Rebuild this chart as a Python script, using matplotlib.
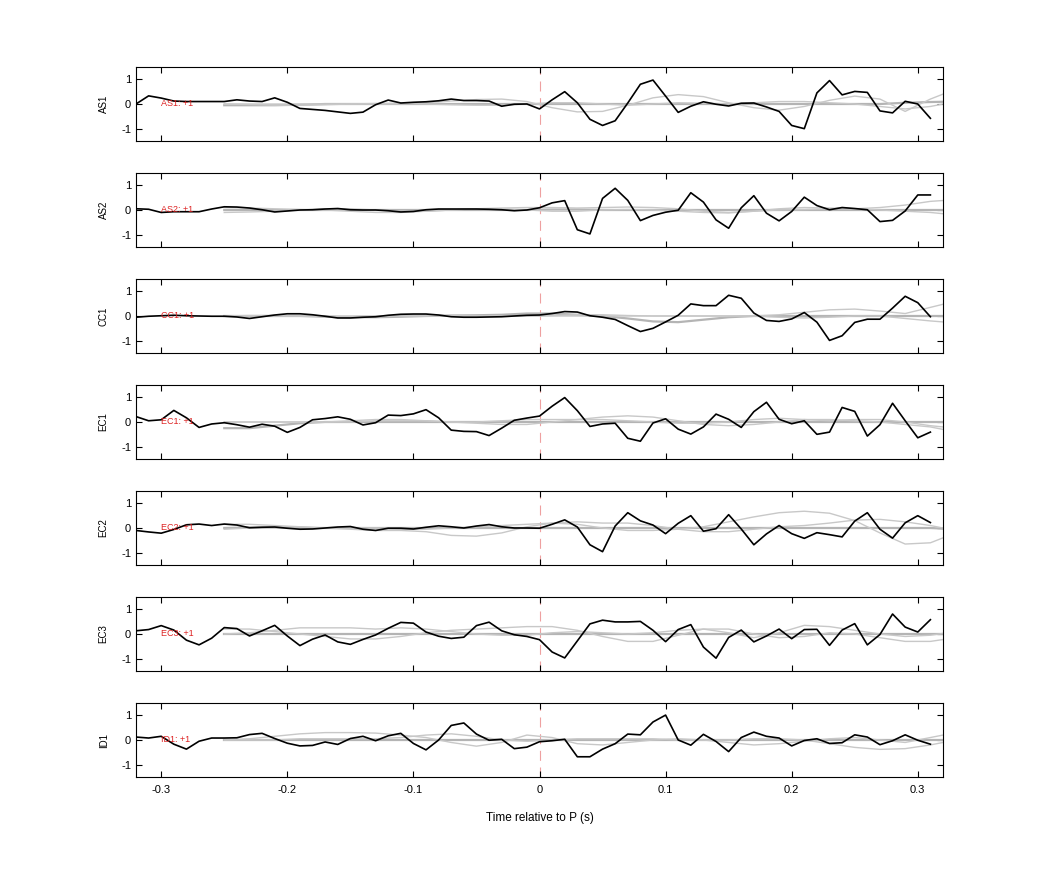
import numpy as np
import matplotlib
matplotlib.use('Agg')
import matplotlib.pyplot as plt

plt.rcParams['font.family'] = ['Liberation Sans', 'DejaVu Sans']
plt.rcParams['axes.unicode_minus'] = False

# station names, top to bottom
stations = ['AS1', 'AS2', 'CC1', 'EC1', 'EC2', 'EC3', 'ID1']
polarity = ['+1'] * 7

# black trace sampled every 0.01 s from -0.32 to 0.31
t_trace = np.round(np.arange(-32, 32) / 100, 2)
# grey traces sampled every 0.02 s from -0.25 to 0.33
t_grey = np.round(np.arange(-25, 34, 2) / 100, 2)

as1 = [0.0, 0.33, 0.24, 0.12, 0.1, 0.1, 0.1, 0.1, 0.17, 0.12, 0.1, 0.25, 0.07, -0.18, -0.22, -0.26,
       -0.32, -0.38, -0.33, -0.03, 0.16, 0.04, 0.07, 0.09, 0.13, 0.2, 0.14, 0.14, 0.12, -0.09, -0.01, 0.0,
       -0.2, 0.17, 0.5, 0.05, -0.62, -0.87, -0.68, 0.04, 0.8, 0.97, 0.32, -0.34, -0.09, 0.09, -0.01, -0.08,
       0.03, 0.04, -0.12, -0.3, -0.87, -1.0, 0.45, 0.95, 0.37, 0.51, 0.47, -0.28, -0.36, 0.11, 0.0, -0.58]
as2 = [0.05, 0.03, -0.1, -0.07, -0.07, -0.07, 0.04, 0.13, 0.12, 0.08, 0.01, -0.08, -0.04, 0.0, 0.01, 0.04,
       0.06, 0.01, 0.0, 0.0, -0.03, -0.08, -0.06, 0.01, 0.04, 0.04, 0.04, 0.04, 0.03, 0.01, -0.03, 0.0,
       0.09, 0.29, 0.38, -0.8, -0.97, 0.47, 0.88, 0.39, -0.43, -0.22, -0.09, -0.01, 0.7, 0.32, -0.4, -0.74,
       0.09, 0.58, -0.13, -0.44, -0.06, 0.52, 0.18, 0.01, 0.1, 0.06, 0.01, -0.47, -0.42, -0.04, 0.61, 0.61]
cc1 = [-0.05, -0.01, 0.01, 0.03, 0.01, 0.0, -0.01, -0.01, -0.04, -0.1, -0.03, 0.04, 0.09, 0.09, 0.05, -0.01,
       -0.08, -0.08, -0.05, -0.03, 0.03, 0.07, 0.08, 0.08, 0.04, -0.03, -0.05, -0.05, -0.04, -0.03, 0.0, 0.03,
       0.04, 0.1, 0.18, 0.16, 0.01, -0.05, -0.14, -0.39, -0.63, -0.5, -0.24, 0.03, 0.49, 0.42, 0.42, 0.84,
       0.72, 0.12, -0.18, -0.22, -0.12, 0.14, -0.25, -0.99, -0.8, -0.26, -0.13, -0.13, 0.32, 0.8, 0.54, -0.03]
ec1 = [0.22, 0.05, 0.09, 0.47, 0.17, -0.22, -0.08, -0.03, -0.11, -0.21, -0.09, -0.17, -0.42, -0.22, 0.09, 0.14,
       0.21, 0.11, -0.12, -0.03, 0.28, 0.26, 0.33, 0.5, 0.17, -0.33, -0.38, -0.39, -0.55, -0.25, 0.07, 0.16,
       0.24, 0.64, 0.99, 0.46, -0.18, -0.08, -0.05, -0.66, -0.78, -0.04, 0.13, -0.29, -0.49, -0.2, 0.32, 0.11,
       -0.22, 0.42, 0.8, 0.11, -0.07, 0.05, -0.5, -0.41, 0.59, 0.43, -0.57, -0.11, 0.76, 0.05, -0.64, -0.41]
ec2 = [-0.1, -0.16, -0.21, -0.06, 0.13, 0.16, 0.1, 0.16, 0.12, 0.01, 0.03, 0.04, -0.01, -0.05, -0.04, 0.0,
       0.04, 0.06, -0.05, -0.1, -0.01, -0.01, -0.04, 0.03, 0.09, 0.05, 0.0, 0.08, 0.14, 0.05, 0.0, 0.0,
       -0.01, 0.15, 0.33, 0.04, -0.68, -0.96, 0.08, 0.62, 0.29, 0.12, -0.23, 0.19, 0.5, -0.13, -0.03, 0.54,
       -0.04, -0.68, -0.24, 0.1, -0.23, -0.42, -0.19, -0.27, -0.36, 0.28, 0.62, -0.05, -0.41, 0.21, 0.5, 0.22]
ec3 = [0.13, 0.18, 0.34, 0.16, -0.25, -0.44, -0.17, 0.26, 0.22, -0.08, 0.13, 0.35, -0.08, -0.47, -0.21, -0.04,
       -0.32, -0.42, -0.22, -0.04, 0.23, 0.47, 0.44, 0.08, -0.09, -0.18, -0.13, 0.34, 0.48, 0.13, -0.03, -0.1,
       -0.23, -0.73, -0.97, -0.28, 0.41, 0.56, 0.49, 0.49, 0.51, 0.15, -0.31, 0.18, 0.38, -0.53, -0.98, -0.14,
       0.16, -0.32, -0.08, 0.2, -0.19, 0.18, 0.19, -0.46, 0.16, 0.42, -0.44, -0.02, 0.81, 0.28, 0.08, 0.58]
id1 = [0.12, 0.08, 0.15, -0.17, -0.37, -0.05, 0.08, 0.08, 0.09, 0.22, 0.27, 0.06, -0.13, -0.24, -0.22, -0.08,
       -0.18, 0.06, 0.15, -0.03, 0.17, 0.27, -0.14, -0.4, 0.0, 0.59, 0.69, 0.24, -0.01, 0.03, -0.35, -0.29,
       -0.07, -0.03, 0.03, -0.68, -0.68, -0.37, -0.15, 0.24, 0.21, 0.73, 1.01, 0.0, -0.21, 0.23, -0.06, -0.47,
       0.1, 0.32, 0.15, 0.08, -0.24, -0.02, 0.05, -0.14, -0.11, 0.21, 0.12, -0.19, -0.03, 0.21, -0.01, -0.17]
traces = [as1, as2, cc1, ec1, ec2, ec3, id1]

# grey comparison traces (three per station)
grey_as1 = [
    [-0.05, -0.05, -0.05, -0.03, 0, 0, 0, 0, 0, 0, 0, 0, 0, 0, 0, 0, 0, 0, 0, 0, 0, 0, 0, 0, 0, 0, 0, 0.05, 0.08, 0.1],
    [0, 0, 0, 0, 0, 0, 0, 0, 0.05, 0.12, 0.18, 0.2, 0.1, -0.15, -0.32, -0.3, -0.05, 0.25, 0.38, 0.3, 0.05, -0.15, -0.25, -0.1, 0.15, 0.32, 0.2, -0.3, 0.2, 0.6],
    [0, -0.02, -0.05, -0.05, -0.03, 0, 0.02, 0.03, 0, -0.03, -0.05, -0.05, 0, 0.05, 0.05, 0, -0.05, 0, 0.05, 0.03, 0, 0.05, 0.1, 0.1, 0.05, 0, -0.1, -0.2, -0.1, 0.1],
]
grey_as2 = [
    [0, 0, 0, 0, 0, 0, 0, 0, 0, 0, 0, 0, 0, 0.02, 0.02, 0, 0, 0, 0, 0, 0, 0, 0, 0, 0, 0, 0, 0, 0, 0],
    [0.1, 0.08, 0.05, 0.02, 0, -0.05, -0.1, -0.1, -0.05, 0, 0.05, 0.08, 0.1, 0.1, 0.08, 0.1, 0.12, 0.1, 0.05, -0.05, -0.1, -0.05, 0.05, 0.1, 0.08, 0.05, 0.1, 0.2, 0.35, 0.42],
    [-0.1, -0.08, -0.05, 0, 0.05, 0.05, 0, -0.05, -0.05, 0, 0.05, 0.05, 0, -0.05, -0.05, 0, 0.02, 0, -0.05, -0.1, -0.12, -0.05, 0, 0.02, 0.05, 0.05, 0, -0.05, -0.1, -0.2],
]
grey_cc1 = [
    [0, 0, 0, 0, -0.03, -0.05, -0.05, -0.03, 0, 0.02, 0.03, 0.05, 0.1, 0.1, 0.05, 0, -0.1, -0.22, -0.25, -0.15, -0.05, 0, 0, 0, 0, 0, 0, 0, 0, 0],
    [0, 0, 0, 0, 0, 0, 0, 0, 0, 0, 0, 0, 0, 0.02, 0.05, 0.05, 0.02, 0, 0, 0, 0, 0, 0.05, 0.15, 0.25, 0.28, 0.2, 0.1, 0.35, 0.6],
    [0, 0.02, 0.02, 0, -0.02, -0.02, 0, 0.02, 0.02, 0.02, 0, 0, 0, 0, 0, 0, 0, 0, 0, 0, 0, 0, -0.05, -0.08, -0.05, 0, 0, -0.1, -0.2, -0.28],
]
grey_ec1 = [
    [-0.25, -0.25, -0.15, -0.05, 0, 0, 0, 0, 0, 0, 0, 0, 0, 0, 0, 0, 0, 0, 0, 0, 0, 0, 0, 0, 0, 0, 0, 0, 0, 0],
    [0, 0, 0, 0, 0, 0, 0.05, 0.05, 0.05, 0, -0.05, -0.1, -0.1, 0, 0.1, 0.2, 0.25, 0.2, 0.05, -0.1, -0.15, -0.1, 0, 0.1, 0.1, 0.05, 0, -0.1, -0.2, -0.4],
    [0, 0, 0, 0, 0, 0.05, 0.1, 0.1, 0.05, 0, 0, 0.05, 0.1, 0.1, 0.1, 0.1, 0.05, 0, -0.05, -0.05, 0, 0.1, 0.15, 0.1, 0.05, 0.1, 0.1, 0, -0.15, -0.25],
]
grey_ec2 = [
    [0, 0.02, 0.02, 0, 0, 0, 0, 0, 0, 0, 0, 0, 0, 0, 0, 0, 0, 0, 0, 0, 0, 0, 0, 0, 0, 0, 0, 0, 0, -0.05],
    [-0.05, 0, 0.05, 0.05, 0, -0.05, -0.1, -0.1, -0.15, -0.3, -0.33, -0.2, 0.05, 0.2, 0.15, 0, -0.1, -0.1, -0.05, 0.05, 0.25, 0.45, 0.62, 0.68, 0.6, 0.3, -0.2, -0.65, -0.6, -0.2],
    [0.15, 0.15, 0.1, 0.05, 0, 0, 0, -0.05, -0.05, 0, 0.05, 0.1, 0.15, 0.2, 0.25, 0.2, 0.2, 0.1, -0.05, -0.15, -0.15, -0.05, 0.05, 0.1, 0.2, 0.32, 0.35, 0.25, 0.1, -0.1],
]
grey_ec3 = [
    [0, 0, 0, 0, 0, 0, 0, 0, 0, 0, 0, 0, 0, 0, 0, 0, 0, 0, 0, 0, 0, 0, 0, 0, 0, 0, 0, 0, 0, 0],
    [0.2, 0.2, 0.1, 0, -0.1, -0.2, -0.2, -0.1, 0.05, 0.15, 0.2, 0.25, 0.3, 0.3, 0.15, -0.1, -0.3, -0.3, -0.05, 0.2, 0.2, 0, -0.15, -0.1, 0.05, 0, -0.15, -0.3, -0.3, -0.15],
    [0, 0.05, 0.15, 0.25, 0.25, 0.25, 0.2, 0.25, 0.2, 0.1, 0, -0.05, -0.05, 0.05, 0.1, 0.05, 0, 0.05, 0.15, 0.2, 0.05, -0.15, 0.05, 0.35, 0.3, 0.15, 0, -0.1, -0.05, 0.1],
]
grey_id1 = [
    [0, 0, 0, 0, 0, 0, 0, 0, 0, 0, 0, 0, 0, 0, 0, 0, 0, 0, 0, 0, 0, 0, 0, 0, 0, 0, 0, 0, 0, 0],
    [0, 0.05, 0.15, 0.25, 0.3, 0.3, 0.28, 0.2, 0.1, -0.1, -0.25, -0.1, 0.2, 0.1, -0.15, -0.2, -0.1, 0, 0.05, 0, -0.1, -0.2, -0.15, -0.05, 0.05, 0.1, 0, -0.1, 0.1, 0.3],
    [0, 0, 0, 0.05, 0.05, 0.05, 0.05, 0.1, 0.2, 0.25, 0.15, 0, -0.05, 0, 0.05, 0.05, 0.05, 0.05, 0, 0, 0, 0.05, 0.05, 0, -0.15, -0.3, -0.38, -0.35, -0.2, 0],
]
greys = [grey_as1, grey_as2, grey_cc1, grey_ec1, grey_ec2, grey_ec3, grey_id1]

fig = plt.figure(figsize=(10.42, 8.75), dpi=100)
W, H = 1042, 875
left_px, right_px = 136, 943
top0, step, h_px = 67, 106, 74

for i, name in enumerate(stations):
    top = top0 + step * i
    ax = fig.add_axes([left_px / W, 1 - (top + h_px) / H, (right_px - left_px) / W, h_px / H])
    ax.axvline(0, color='#eea0a0', lw=0.8, ls=(0, (9, 6)), zorder=1)
    for j, g in enumerate(greys[i]):
        if j == 0:
            ax.plot(t_grey, g, color='#b4b4b4', lw=1.6, zorder=2)
        else:
            ax.plot(t_grey, g, color='#c8c8c8', lw=1.0, zorder=2)
    ax.plot(t_trace, traces[i], color='black', lw=1.2, zorder=3)
    ax.text(-0.3, 0, f'{name}: {polarity[i]}', color='#dd2222', fontsize=6.5, va='center', ha='left', zorder=4)
    ax.set_xlim(-0.32, 0.32)
    ax.set_ylim(-1.5, 1.5)
    ax.set_yticks([-1, 0, 1])
    ax.set_xticks([-0.3, -0.2, -0.1, 0, 0.1, 0.2, 0.3])
    ax.tick_params(direction='in', top=True, right=True, length=4, width=0.8, labelsize=8)
    ax.tick_params(axis='x', pad=6)
    ax.set_ylabel(name, fontsize=7, labelpad=9)
    for s in ax.spines.values():
        s.set_linewidth(0.8)
    if i < len(stations) - 1:
        ax.set_xticklabels([])
    else:
        ax.set_xticklabels(['-0.3', '-0.2', '-0.1', '0', '0.1', '0.2', '0.3'])
        ax.set_xlabel('Time relative to P (s)', fontsize=8.5, labelpad=12)

fig.savefig('out.png', dpi=100)
